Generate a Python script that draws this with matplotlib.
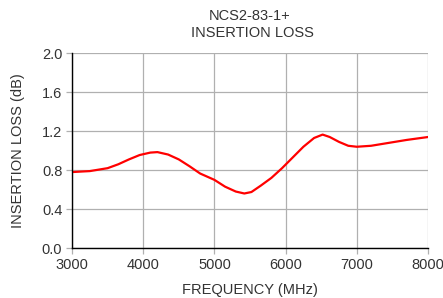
import matplotlib
matplotlib.use("Agg")
import matplotlib.pyplot as plt

plt.rcParams['font.family'] = ['Liberation Sans', 'DejaVu Sans']

freq_mhz = [3000, 3250, 3500, 3650, 3800, 3950, 4100, 4200, 4350, 4500,
            4650, 4800, 5000, 5150, 5300, 5420, 5520, 5650, 5800, 5950,
            6100, 6250, 6400, 6520, 6620, 6750, 6880, 7000, 7200, 7450,
            7700, 8000]
loss_db = [0.78, 0.79, 0.82, 0.86, 0.91, 0.955, 0.98, 0.985, 0.96, 0.91,
           0.84, 0.765, 0.70, 0.63, 0.58, 0.56, 0.575, 0.64, 0.72, 0.82,
           0.93, 1.04, 1.13, 1.165, 1.14, 1.09, 1.05, 1.04, 1.05, 1.08,
           1.11, 1.14]
x_ticks = [3000, 4000, 5000, 6000, 7000, 8000]
y_ticks = [0.0, 0.4, 0.8, 1.2, 1.6, 2.0]

fig = plt.figure(figsize=(4.43, 2.98), dpi=100)
ax = fig.add_axes([72/443, 1-248/298, (428-72)/443, (248-53.3)/298])

ax.plot(freq_mhz, loss_db, color='#ff0000', lw=1.6, solid_capstyle='round',
        solid_joinstyle='round', zorder=3)

ax.set_xlim(3000, 8000)
ax.set_ylim(0, 2.0)
ax.set_xticks(x_ticks)
ax.set_yticks(y_ticks)
ax.set_yticklabels([f"{v:.1f}" for v in y_ticks])
ax.grid(True, color='#b0b0b0', lw=0.9)
ax.tick_params(axis='both', colors='#b0b0b0', labelcolor='#333333',
               labelsize=10.5, length=4, width=0.9, pad=3)
for s in ['top', 'right']:
    ax.spines[s].set_visible(False)
for s in ['left', 'bottom']:
    ax.spines[s].set_color('black')
    ax.spines[s].set_linewidth(1.0)
    ax.spines[s].set_zorder(4)

ax.set_xlabel('FREQUENCY (MHz)', fontsize=10.5, color='#333333', labelpad=8)
ax.set_ylabel('INSERTION LOSS (dB)', fontsize=10.5, color='#333333', labelpad=12)

fig.text(250/443, 1-16.5/298, 'NCS2-83-1+', ha='center', va='center',
         fontsize=10.5, color='#333333')
fig.text(252/443, 1-33/298, 'INSERTION LOSS', ha='center', va='center',
         fontsize=10.5, color='#333333')

fig.savefig('out.png', dpi=100)
